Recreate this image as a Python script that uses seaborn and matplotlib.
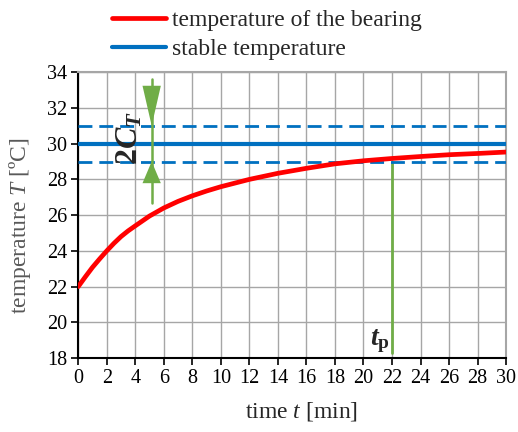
import matplotlib
matplotlib.use("Agg")
import matplotlib.pyplot as plt
import seaborn as sns
import numpy as np
import pandas as pd

# data
time_min = [0, 0.5, 1, 1.5, 2, 2.5, 3, 3.5, 4, 5, 6, 7, 8, 9, 10, 12, 14, 16, 18, 20,
            22, 24, 26, 28, 30]
temp_bearing = [22.0, 22.55, 23.08, 23.55, 24.0, 24.42, 24.8, 25.12, 25.4, 25.95, 26.4,
                26.77, 27.08, 27.35, 27.59, 28.0, 28.34, 28.62, 28.87, 29.04, 29.17,
                29.28, 29.38, 29.45, 29.53]
stable_temp = 30.0
tolerance = 1.0
t_p = 22
arrow_t = 5.15

sns.set_theme(style="white")
plt.rcParams['font.family'] = ['Liberation Serif', 'DejaVu Serif']
plt.rcParams['mathtext.fontset'] = 'custom'
plt.rcParams['mathtext.rm'] = 'Liberation Serif'
plt.rcParams['mathtext.it'] = 'Liberation Serif:italic'
plt.rcParams['mathtext.bf'] = 'Liberation Serif:bold'
plt.rcParams['mathtext.bfit'] = 'Liberation Serif:bold:italic'

fig = plt.figure(figsize=(5.18, 4.32), dpi=100)
ax = fig.add_axes([0.151, 0.171, 0.826, 0.662])

df = pd.DataFrame({"t": time_min, "T": temp_bearing})
sns.lineplot(data=df, x="t", y="T", ax=ax, color="#FF0000", lw=3.4,
             label="temperature of the bearing", zorder=5,
             solid_joinstyle="round", solid_capstyle="round")
ax.axhline(stable_temp, color="#0070C0", lw=3, label="stable temperature", zorder=4)
ax.axhline(stable_temp + tolerance, color="#0070C0", lw=2, ls=(0, (5, 2.5)), zorder=4)
ax.axhline(stable_temp - tolerance, color="#0070C0", lw=2, ls=(0, (5, 2.5)), zorder=4)

green = "#70AD47"
# t_p line
ax.plot([t_p, t_p], [18.3, stable_temp - tolerance], color=green, lw=2, zorder=3)
# arrow line
ax.plot([arrow_t, arrow_t], [33.6, 26.7], color=green, lw=1.8, zorder=6)
ax.annotate("", xy=(arrow_t, stable_temp + tolerance), xytext=(arrow_t, 33.2),
            arrowprops=dict(arrowstyle="-|>,head_length=2.4,head_width=0.55",
                            color=green, lw=0, shrinkA=0, shrinkB=0), zorder=7)
ax.annotate("", xy=(arrow_t, stable_temp - tolerance), xytext=(arrow_t, 27.5),
            arrowprops=dict(arrowstyle="-|>,head_length=1.3,head_width=0.55",
                            color=green, lw=0, shrinkA=0, shrinkB=0), zorder=7)
ax.text(3.6, 30.33, r"$\mathbf{2}\mathbfit{C}_{\mathbfit{T}}$", rotation=90,
        ha="center", va="center", fontsize=23, zorder=8)
ax.text(21.85, 18.2, r"$\mathbfit{t}_{\mathbf{p}}$", ha="right", va="bottom",
        fontsize=20, zorder=8)

ax.set_xlim(0, 30)
ax.set_ylim(18, 34)
ax.set_xticks(range(0, 31, 2))
ax.set_yticks(range(18, 35, 2))
ax.grid(True, color="#A6A6A6", lw=1)
ax.set_axisbelow(True)
for s in ["top", "right"]:
    ax.spines[s].set_color("#A6A6A6")
    ax.spines[s].set_linewidth(1.5)
for s in ["left", "bottom"]:
    ax.spines[s].set_color("black")
    ax.spines[s].set_linewidth(1.5)
ax.tick_params(axis="both", which="both", direction="out", length=5, width=1.2,
               color="black", labelsize=14.5, labelcolor="black", left=True, bottom=True, pad=3)
ax.set_xlabel(r"time $\mathit{t}$ [min]", fontsize=17, color="#262626")
ax.set_ylabel(r"temperature $\mathit{T}$ [ºC]", fontsize=17, color="#595959")
ax.xaxis.set_label_coords(0.521, -0.145)
ax.yaxis.set_label_coords(-0.105, 0.465)

ax.get_legend().remove()
h, l = ax.get_legend_handles_labels()
fig.legend(h, l, loc="upper left", bbox_to_anchor=(0.188, 1.01), frameon=False,
           fontsize=17, handlelength=2.3, handletextpad=0.25, labelspacing=0.3,
           borderaxespad=0.2)

fig.savefig("out.png", dpi=100)
